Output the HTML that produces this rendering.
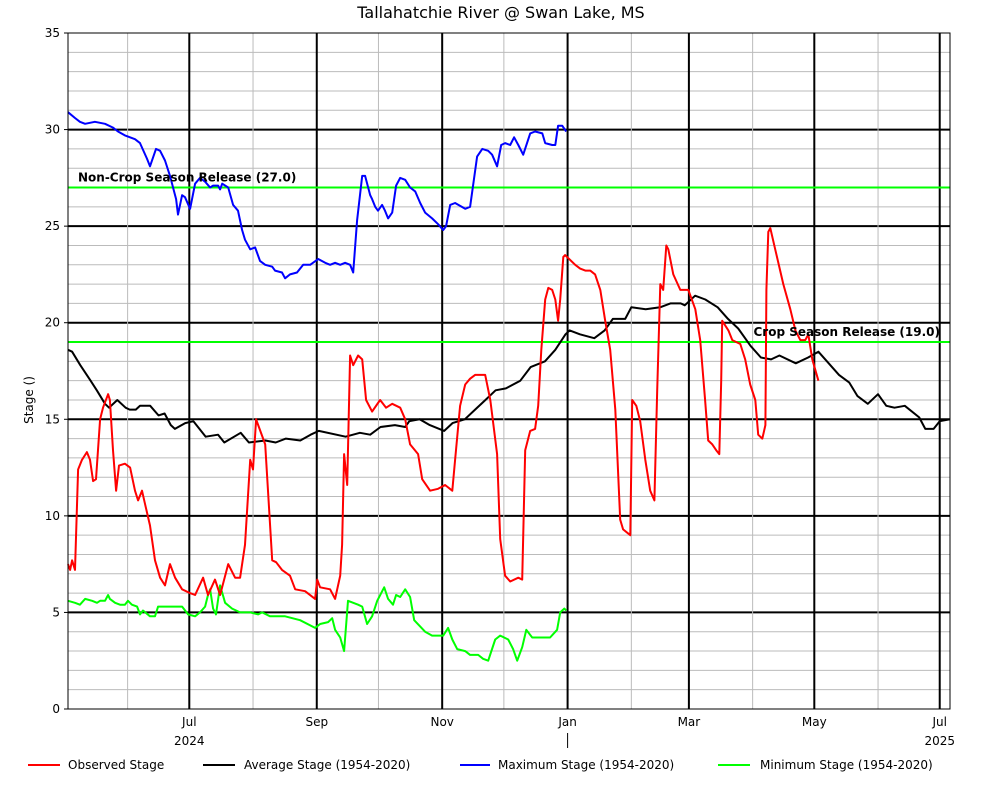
<!DOCTYPE html>
<html><head><meta charset="utf-8"><style>
body{margin:0;background:#fff;width:1001px;height:780px;overflow:hidden}
svg text{font-family:"DejaVu Sans","Liberation Sans",sans-serif;font-size:12px;fill:#000}
</style></head><body>
<svg id="chart" width="1001" height="780" xmlns="http://www.w3.org/2000/svg">
<text x="501" y="18" text-anchor="middle" style="font-size:16px">Tallahatchie River @ Swan Lake, MS</text>
<text transform="translate(33,400) rotate(-90)" text-anchor="middle">Stage ()</text>
<g id="grid"></g>
<g id="series"></g>
<g id="axes"></g>
<g>
<line x1="28" y1="765" x2="60" y2="765" stroke="#ff0000" stroke-width="2"/><text x="68" y="769">Observed Stage</text>
<line x1="203" y1="765" x2="235" y2="765" stroke="#000" stroke-width="2"/><text x="244" y="769">Average Stage (1954-2020)</text>
<line x1="460" y1="765" x2="490" y2="765" stroke="#0000ff" stroke-width="2"/><text x="498" y="769">Maximum Stage (1954-2020)</text>
<line x1="718" y1="765" x2="750" y2="765" stroke="#00ff00" stroke-width="2"/><text x="760" y="769">Minimum Stage (1954-2020)</text>
</g>
</svg>
<script>
const startDate = Date.UTC(2024,4,3);
const totalDays = 429;
const yTicks = [0,5,10,15,20,25,30,35];
const releaseLevels = [27, 19];
const releaseLabels = ["Non-Crop Season Release (27.0)", "Crop Season Release (19.0)"];
const maxDays = [0,3.4,5.8,8.3,13.1,18,21.9,24.3,27.7,32.6,35,38.4,39.9,42.8,44.8,47.2,49.6,52.6,53.5,55.5,56.9,59.4,61.8,64.2,66.7,69.1,70.6,73,74,75,77.9,80.3,82.7,84.7,86.1,88.6,91,93.4,95.9,99.3,100.7,104.1,105.6,108,111.4,114.4,117.8,121.7,125.1,127.5,129.9,132.4,134.8,137.2,138.7,140.6,143.1,144.5,147,147.9,149.4,150.8,152.8,154.2,155.7,157.7,159.6,161.6,164,166.4,168.9,171.3,173.7,177.1,180,182.5,183.9,185.9,188.3,193.2,195.6,199,201.5,204.4,206.3,208.7,210.7,212.6,215.1,217,219,221.4,224.8,227.2,230.7,232.1,235.5,237,238.4,240.4,242.3];
const maxVals = [30.9,30.6,30.4,30.3,30.4,30.3,30.1,29.9,29.7,29.5,29.3,28.5,28.1,29.0,28.9,28.4,27.6,26.4,25.6,26.6,26.5,25.9,27.2,27.5,27.3,27.0,27.1,27.1,26.9,27.2,27.0,26.1,25.8,24.8,24.3,23.8,23.9,23.2,23.0,22.9,22.7,22.6,22.3,22.5,22.6,23.0,23.0,23.3,23.1,23.0,23.1,23.0,23.1,23.0,22.6,25.3,27.6,27.6,26.6,26.4,26.0,25.8,26.1,25.8,25.4,25.7,27.1,27.5,27.4,27.0,26.8,26.2,25.7,25.4,25.1,24.8,25.0,26.1,26.2,25.9,26.0,28.6,29.0,28.9,28.7,28.1,29.2,29.3,29.2,29.6,29.2,28.7,29.8,29.9,29.8,29.3,29.2,29.2,30.2,30.2,29.9];
const avgDays = [0,2,6,11,14,18,20,24,28,30,33,35,40,44,47,50,52,57,61,67,73,76,84,88,96,101,106,113,118,122,135,142,147,152,159,164,166,171,176,183,187,193,198,203,208,213,220,225,232,237,242,244,249,256,261,265,271,274,281,288,293,298,300,305,310,316,321,326,332,337,342,346,354,360,365,370,375,380,384,389,394,398,402,407,414,417,421,424,429];
const avgVals = [18.6,18.5,17.8,17.0,16.5,15.8,15.6,16.0,15.6,15.5,15.5,15.7,15.7,15.2,15.3,14.7,14.5,14.8,14.9,14.1,14.2,13.8,14.3,13.8,13.9,13.8,14.0,13.9,14.2,14.4,14.1,14.3,14.2,14.6,14.7,14.6,14.9,15.0,14.7,14.4,14.8,15.0,15.5,16.0,16.5,16.6,17.0,17.7,18.0,18.6,19.4,19.6,19.4,19.2,19.6,20.2,20.2,20.8,20.7,20.8,21.0,21.0,20.9,21.4,21.2,20.8,20.2,19.7,18.8,18.2,18.1,18.3,17.9,18.2,18.5,17.9,17.3,16.9,16.2,15.8,16.3,15.7,15.6,15.7,15.1,14.5,14.5,14.9,15.0];
const obsDays = [0,1,2,3.4,4.9,6.8,9.2,10.7,12.2,13.6,15.6,17,19.5,20.4,21.9,23.4,24.8,27.7,30.2,32.6,34.1,36,37.5,39.9,42.3,44.8,47.2,49.6,52.1,55.5,59.4,61.8,65.7,68.1,71.5,74,77.9,81.3,83.7,86.1,88.6,90,91.5,92.5,95.9,99.3,101.2,104.1,108,110.5,115.3,120.2,121.2,122.6,127.5,129.9,132.4,133.3,134.3,135.8,137.2,138.7,141.1,143.1,145,147.9,151.8,154.7,157.7,161.6,164,166.4,170.3,172.3,176.1,180,183.4,186.9,188.3,190.7,193.2,195.6,198,200.5,202.9,205.4,208.7,210.2,212.6,215.1,219,220.9,222.4,224.8,227.2,228.7,230.2,232.1,233.6,235.5,237,238.4,239.4,240.9,241.8,246.7,249.1,251.6,254,256.4,258.9,261.3,263.7,266.2,268.6,270,273.5,274.4,276.4,278.3,280.8,283.2,285.2,286.6,288.1,289.5,291,292,294.4,297.8,301.7,305.1,307.5,309.9,311.4,313.4,315.3,316.8,317.7,318.2,321.2,323.1,327,329.4,331.8,334.3,335.7,337.7,339.2,339.7,340.6,341.6,344,347.9,351.3,353.8,356.2,358.6,360.1,362,365];
const obsVals = [7.5,7.2,7.7,7.2,12.4,12.9,13.3,12.9,11.8,11.9,15.0,15.6,16.3,16.0,13.4,11.3,12.6,12.7,12.5,11.3,10.8,11.3,10.6,9.5,7.7,6.8,6.4,7.5,6.8,6.2,6.0,5.9,6.8,5.9,6.7,5.9,7.5,6.8,6.8,8.5,12.9,12.4,15.0,14.7,13.7,7.7,7.6,7.2,6.9,6.2,6.1,5.7,6.7,6.3,6.2,5.7,6.9,8.5,13.2,11.6,18.3,17.8,18.3,18.1,16.0,15.4,16.0,15.6,15.8,15.6,15.0,13.7,13.2,11.9,11.3,11.4,11.6,11.3,12.9,15.7,16.8,17.1,17.3,17.3,17.3,16.0,13.2,8.8,6.9,6.6,6.8,6.7,13.4,14.4,14.5,15.7,18.6,21.2,21.8,21.7,21.2,20.1,21.2,23.4,23.5,23.0,22.8,22.7,22.7,22.5,21.7,20.1,18.6,15.5,9.8,9.3,9.0,16.0,15.7,14.9,12.9,11.3,10.8,16.5,22.0,21.7,24.0,23.8,22.5,21.7,21.7,20.7,19.1,16.0,13.9,13.7,13.4,13.2,17.0,20.1,19.6,19.1,18.9,18.1,16.8,16.0,14.2,14.0,14.7,21.7,24.7,24.9,23.8,22.0,20.7,19.6,19.1,19.1,19.4,18.1,17.0];
const minDays = [0,3.4,5.8,8.3,11.7,14.1,15.6,18,19.5,20.4,22.9,25.3,27.7,29.2,31.1,33.6,35,36.5,39.9,42.3,43.8,49.6,55.5,58.4,61.8,64.2,66.7,68.1,69.1,70.6,72,74,76.4,79.8,83.7,88.6,92.5,94.4,98.3,105.6,112.9,120.2,122.6,126.5,128.5,129.9,132.4,134.3,136.2,141.1,143.1,145.5,147.9,150.4,153.8,155.7,158.1,159.6,161.6,164,166.4,168.4,173.7,177.1,182.5,184.9,186.9,189.3,193.2,195.6,199.5,201.9,204.4,207.8,210.2,214.1,216.5,218.5,220.9,222.9,225.8,229.7,234.5,237.9,239.4,241.4,242.3];
const minVals = [5.6,5.5,5.4,5.7,5.6,5.5,5.6,5.6,5.9,5.7,5.5,5.4,5.4,5.6,5.4,5.3,4.9,5.1,4.8,4.8,5.3,5.3,5.3,4.9,4.8,5.0,5.3,5.9,6.2,5.2,4.9,6.4,5.5,5.2,5.0,5.0,4.9,5.0,4.8,4.8,4.6,4.2,4.4,4.5,4.7,4.1,3.7,3.0,5.6,5.4,5.3,4.4,4.8,5.6,6.3,5.7,5.4,5.9,5.8,6.2,5.8,4.6,4.0,3.8,3.8,4.2,3.6,3.1,3.0,2.8,2.8,2.6,2.5,3.6,3.8,3.6,3.1,2.5,3.2,4.1,3.7,3.7,3.7,4.1,5.0,5.2,5.1];

const L=68,R=950,T=33,B=709;
const X=d=>L+d*(R-L)/totalDays;
const Y=v=>B-v*(B-T)/35;
const NS="http://www.w3.org/2000/svg";
function mk(parent,tag,attrs){const e=document.createElementNS(NS,tag);for(const k in attrs)e.setAttribute(k,attrs[k]);parent.appendChild(e);return e;}
const grid=document.getElementById('grid'),axes=document.getElementById('axes'),series=document.getElementById('series');
// horizontal grid
for(let v=1;v<35;v++){
  const major=v%5===0;
  const ln=mk(grid,'line',{x1:L,x2:R,y1:Y(v),y2:Y(v),stroke:major?'#000':'#bbb','stroke-width':major?2:1});
  
  
}
// month grid
const monthNames=["Jan","Feb","Mar","Apr","May","Jun","Jul","Aug","Sep","Oct","Nov","Dec"];
for(let m=5;m<=18;m++){
  const y=2024+Math.floor(m/12),mo=m%12;
  const d=(Date.UTC(y,mo,1)-startDate)/86400000;
  if(d<0||d>totalDays)continue;
  const major=mo%2===0;
  const ln=mk(grid,'line',{x1:X(d),x2:X(d),y1:T,y2:B,stroke:major?'#000':'#bbb','stroke-width':major?2:1});
  
  
  if(major){
    const t=mk(axes,'text',{x:X(d),y:726,'text-anchor':'middle'});t.textContent=monthNames[mo];
    
    
    if(mo===6){const yl=mk(axes,'text',{x:X(d),y:745,'text-anchor':'middle'});yl.textContent=String(y);
      
      }
    if(mo===0){const tk=mk(axes,'line',{x1:X(d),x2:X(d),y1:733,y2:748,stroke:'#000','stroke-width':1});
      
      }
  }
}
// frame
const fr=mk(axes,'rect',{x:L,y:T,width:R-L,height:B-T,fill:'none',stroke:'#000','stroke-width':1});


yTicks.forEach(v=>{
  const t=mk(axes,'text',{x:L-8,y:Y(v)+4,'text-anchor':'end'});t.textContent=v;
  
  
  const tk=mk(axes,'line',{x1:L-4,x2:L,y1:Y(v),y2:Y(v),stroke:'#000'});
  
  
});
// release lines
releaseLevels.forEach((v,i)=>{
  const ln=mk(series,'line',{x1:L,x2:R,y1:Y(v),y2:Y(v),stroke:'#00ff00','stroke-width':2});
  
  
});
function path(days,vals,color,name){
  const p=mk(series,'path',{d:days.map((d,i)=>(i?'L':'M')+X(d).toFixed(1)+','+Y(vals[i]).toFixed(1)).join(''),fill:'none',stroke:color,'stroke-width':2,'stroke-linejoin':'round'});
  
  
}
path(minDays,minVals,'#00ff00','minimum-stage-line');
path(avgDays,avgVals,'#000000','average-stage-line');
path(maxDays,maxVals,'#0000ff','maximum-stage-line');
path(obsDays,obsVals,'#ff0000','observed-stage-line');
const l1=mk(series,'text',{x:78,y:Y(releaseLevels[0])-6,style:'font-weight:bold'});l1.textContent=releaseLabels[0];


const l2=mk(series,'text',{x:940,y:Y(releaseLevels[1])-6,'text-anchor':'end',style:'font-weight:bold'});l2.textContent=releaseLabels[1];


</script>
</body></html>
